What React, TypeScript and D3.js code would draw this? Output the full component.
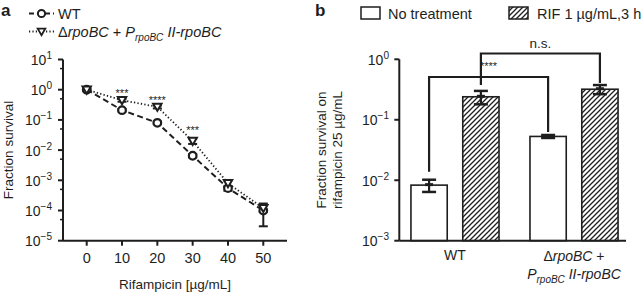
import React from "react";
import * as d3 from "d3";

// Panel a data
const concentrations = [0, 10, 20, 30, 40, 50];
const wtMean = [1.0, 0.21, 0.08, 0.0065, 0.00055, 0.0001];
const wtSd = [0.08, 0.02, 0.008, 0.0008, 0.0001, 0.00007];
const mutMean = [1.0, 0.45, 0.27, 0.02, 0.0008, 0.00012];
const mutSd = [0.08, 0.05, 0.03, 0.004, 0.0002, 0.00003];
const sigA = [
  { x: 10, label: "***", y: 0.75 },
  { x: 20, label: "****", y: 0.45 },
  { x: 30, label: "***", y: 0.045 },
];
const yTicksA = [1, 0, -1, -2, -3, -4, -5];
const xTicksA = [0, 10, 20, 30, 40, 50];

// Panel b data
const strains = ["WT", "mut"];
const treatments = ["No treatment", "RIF 1 µg/mL,3 h"];
const barMean = [
  [0.0083, 0.24],
  [0.053, 0.32],
];
const barSd = [
  [0.0019, 0.06],
  [0.003, 0.055],
];
const yTicksB = [0, -1, -2, -3];

const FONT = "'Liberation Sans', Arial, Helvetica, sans-serif";
const INK = "#1e1e1e";

function Pow({ x, y, e, anchor = "end", size = 13.5 }: any) {
  const exp = e < 0 ? "\u2212" + Math.abs(e) : String(e);
  return (
    <text x={x} y={y} textAnchor={anchor} fontSize={size} fontFamily={FONT} fill={INK}>
      10
      <tspan dy={-6} fontSize={size * 0.72}>{exp}</tspan>
    </text>
  );
}

export default function App() {
  // Panel a scales
  const xA = d3.scaleLinear().domain([0, 50]).range([86.7, 263.3]);
  const yA = d3.scaleLog().domain([1e-5, 10]).range([240.7, 59.5]);
  const axLeftA = 63;
  const axRightA = 287;
  const baseA = 240.7;

  const lineA = d3
    .line<number>()
    .x((_, i) => xA(concentrations[i]))
    .y((d) => yA(d));

  // Panel b scales
  const yB = d3.scaleLog().domain([1e-3, 1]).range([240.7, 59.3]);
  const xB = d3.scaleBand().domain(strains).range([405, 624]).paddingInner(0.26).paddingOuter(0.05);
  const xT = d3.scaleBand().domain(treatments).range([0, xB.bandwidth()]).paddingInner(0.3);
  const axLeftB = 399.3;
  const axRightB = 626;
  const baseB = 240.7;

  const barX = (s: number, t: number) => (xB(strains[s]) as number) + (xT(treatments[t]) as number);
  const bw = xT.bandwidth();
  const cx = (s: number, t: number) => barX(s, t) + bw / 2;

  const minorA: number[] = [];
  for (let k = -5; k < 1; k++) minorA.push(5 * Math.pow(10, k));

  const tri = (x: number, y: number, r: number) =>
    `M${x - r},${y - r * 0.75} L${x + r},${y - r * 0.75} L${x},${y + r * 0.95} Z`;

  return (
    <svg width={641} height={293} style={{ display: "block", position: "absolute", left: 0, top: 0 }}>
      <defs>
        <pattern id="hatch" patternUnits="userSpaceOnUse" width={5} height={5}>
          <path d="M-1,1 l2,-2 M0,5 l5,-5 M4,6 l2,-2" stroke={INK} strokeWidth={1.3} />
        </pattern>
      </defs>
      <rect width={641} height={293} fill="#fff" />

      {/* ---------- Panel a ---------- */}
      <text x={1} y={16} fontSize={17} fontWeight="bold" fontFamily={FONT} fill={INK}>a</text>
      {/* legend */}
      <g>
        <line x1={29} x2={54} y1={13.5} y2={13.5} stroke={INK} strokeWidth={2} strokeDasharray="5,3" />
        <circle cx={41.5} cy={13.5} r={3.6} fill="#fff" stroke={INK} strokeWidth={2} />
        <text x={58} y={19} fontSize={14.5} fontFamily={FONT} fill={INK}>WT</text>
        <line x1={29} x2={54} y1={31.5} y2={31.5} stroke={INK} strokeWidth={1.8} strokeDasharray="1.2,2.2" />
        <path d={tri(41.5, 31.5, 3.8)} fill="#fff" stroke={INK} strokeWidth={1.8} />
        <text x={58} y={37} fontSize={14.5} fontFamily={FONT} fill={INK}>
          {"\u0394"}
          <tspan fontStyle="italic">rpoBC</tspan>
          <tspan> + </tspan>
          <tspan fontStyle="italic">P</tspan>
          <tspan fontStyle="italic" fontSize={10} dy={4}>rpoBC</tspan>
          <tspan fontStyle="italic" dy={-4}> II-rpoBC</tspan>
        </text>
      </g>

      {/* axes */}
      <line x1={axLeftA} x2={axLeftA} y1={yA(10)} y2={baseA} stroke={INK} strokeWidth={2} />
      <line x1={axLeftA} x2={axRightA} y1={baseA} y2={baseA} stroke={INK} strokeWidth={2} />
      {yTicksA.map((e) => (
        <g key={e}>
          <line x1={axLeftA - 5} x2={axLeftA} y1={yA(Math.pow(10, e))} y2={yA(Math.pow(10, e))} stroke={INK} strokeWidth={2} />
          <Pow x={52} y={yA(Math.pow(10, e)) + 5.5} e={e} size={14} />
        </g>
      ))}
      {minorA.map((v) => (
        <line key={v} x1={axLeftA - 3} x2={axLeftA} y1={yA(v)} y2={yA(v)} stroke={INK} strokeWidth={1.5} />
      ))}
      {xTicksA.map((t) => (
        <g key={t}>
          <line x1={xA(t)} x2={xA(t)} y1={baseA} y2={baseA + 5} stroke={INK} strokeWidth={2} />
          <text x={xA(t)} y={263} textAnchor="middle" fontSize={14.5} fontFamily={FONT} fill={INK}>{t}</text>
        </g>
      ))}
      <text x={175} y={289} textAnchor="middle" fontSize={13.5} fontFamily={FONT} fill={INK}>Rifampicin [µg/mL]</text>
      <text transform="translate(13,150) rotate(-90)" textAnchor="middle" fontSize={13.5} fontFamily={FONT} fill={INK}>
        Fraction survival
      </text>

      {/* lines */}
      <path d={lineA(wtMean) as string} fill="none" stroke={INK} strokeWidth={2} strokeDasharray="6,3.5" />
      <path d={lineA(mutMean) as string} fill="none" stroke={INK} strokeWidth={1.8} strokeDasharray="1.3,2.2" />

      {/* error bars */}
      {[{ m: wtMean, s: wtSd }, { m: mutMean, s: mutSd }].map((ser, si) =>
        ser.m.map((v, i) => {
          const x = xA(concentrations[i]);
          const lo = yA(Math.max(v - ser.s[i], 1e-6));
          const hi = yA(v + ser.s[i]);
          return (
            <g key={`${si}-${i}`}>
              <line x1={x} x2={x} y1={lo} y2={hi} stroke={INK} strokeWidth={2} />
              <line x1={x - 4.5} x2={x + 4.5} y1={lo} y2={lo} stroke={INK} strokeWidth={2} />
              <line x1={x - 4.5} x2={x + 4.5} y1={hi} y2={hi} stroke={INK} strokeWidth={2} />
            </g>
          );
        })
      )}
      {/* markers */}
      {wtMean.map((v, i) => (
        <circle key={"c" + i} cx={xA(concentrations[i])} cy={yA(v)} r={3.8} fill="#fff" stroke={INK} strokeWidth={2.2} />
      ))}
      {mutMean.map((v, i) => (
        <path key={"t" + i} d={tri(xA(concentrations[i]), yA(v), 4.2)} fill="#fff" stroke={INK} strokeWidth={2} />
      ))}
      {sigA.map((s) => (
        <text key={s.x} x={xA(s.x)} y={yA(s.y) + 4} textAnchor="middle" fontSize={11} fontFamily={FONT} fill={INK}>
          {s.label}
        </text>
      ))}

      {/* ---------- Panel b ---------- */}
      <text x={315} y={16} fontSize={17} fontWeight="bold" fontFamily={FONT} fill={INK}>b</text>
      <rect x={361} y={7} width={19} height={12} fill="#fff" stroke={INK} strokeWidth={1.5} />
      <text x={388} y={18.5} fontSize={14.5} fontFamily={FONT} fill={INK}>{treatments[0]}</text>
      <rect x={509} y={7} width={19} height={12} fill="url(#hatch)" stroke={INK} strokeWidth={1.5} />
      <text x={537} y={18.5} fontSize={14.5} fontFamily={FONT} fill={INK}>{treatments[1]}</text>

      <line x1={axLeftB} x2={axLeftB} y1={yB(1)} y2={baseB} stroke={INK} strokeWidth={2} />
      {yTicksB.map((e) => (
        <g key={e}>
          <line x1={axLeftB - 5} x2={axLeftB} y1={yB(Math.pow(10, e))} y2={yB(Math.pow(10, e))} stroke={INK} strokeWidth={2} />
          <Pow x={389} y={yB(Math.pow(10, e)) + 5.5} e={e} size={14} />
        </g>
      ))}
      <text transform="translate(326,150) rotate(-90)" textAnchor="middle" fontSize={13.5} fontFamily={FONT} fill={INK}>
        Fraction survival on
      </text>
      <text transform="translate(342,150) rotate(-90)" textAnchor="middle" fontSize={13.5} fontFamily={FONT} fill={INK}>
        rifampicin  25 µg/mL
      </text>

      {/* bars */}
      {barMean.map((row, s) =>
        row.map((v, t) => (
          <rect
            key={`b${s}${t}`}
            x={barX(s, t)}
            y={yB(v)}
            width={bw}
            height={baseB - yB(v)}
            fill={t === 0 ? "#fff" : "url(#hatch)"}
            stroke={INK}
            strokeWidth={1.6}
          />
        ))
      )}
      {/* error bars b */}
      {barMean.map((row, s) =>
        row.map((v, t) => {
          const x = cx(s, t);
          const lo = yB(v - barSd[s][t]);
          const hi = yB(v + barSd[s][t]);
          return (
            <g key={`e${s}${t}`}>
              <line x1={x} x2={x} y1={lo} y2={hi} stroke={INK} strokeWidth={2.2} />
              <line x1={x - 7} x2={x + 7} y1={lo} y2={lo} stroke={INK} strokeWidth={2.5} />
              <line x1={x - 7} x2={x + 7} y1={hi} y2={hi} stroke={INK} strokeWidth={2.5} />
              <line x1={x - 4} x2={x + 4} y1={yB(v) - 0.5} y2={yB(v) - 0.5} stroke={INK} strokeWidth={3} />
            </g>
          );
        })
      )}
      <line x1={axLeftB} x2={axRightB} y1={baseB} y2={baseB} stroke={INK} strokeWidth={2} />

      {/* significance brackets */}
      {(() => {
        const y1 = 77;
        const xl = cx(0, 0);
        const xr = cx(1, 0);
        const y2 = 53.5;
        const xl2 = cx(0, 1);
        const xr2 = cx(1, 1);
        return (
          <g fill="none" stroke={INK} strokeWidth={2.2}>
            <path d={`M${xl},${yB(barMean[0][0] + barSd[0][0]) - 8} V${y1} H${xr} V${yB(barMean[1][0] + barSd[1][0]) - 3}`} />
            <path d={`M${xl2},${yB(barMean[0][1] + barSd[0][1]) - 6} V${y2} H${xr2} V${yB(barMean[1][1] + barSd[1][1]) - 2}`} />
            <text x={(xl + xr) / 2} y={70} textAnchor="middle" fontSize={11} fontFamily={FONT} fill={INK} stroke="none">****</text>
            <text x={(xl2 + xr2) / 2} y={48} textAnchor="middle" fontSize={13.5} fontFamily={FONT} fill={INK} stroke="none">n.s.</text>
          </g>
        );
      })()}

      {/* category labels */}
      <text x={(xB("WT") as number) + xB.bandwidth() / 2} y={260} textAnchor="middle" fontSize={14} fontFamily={FONT} fill={INK}>WT</text>
      <text x={(xB("mut") as number) + xB.bandwidth() / 2} y={261} textAnchor="middle" fontSize={14} fontFamily={FONT} fill={INK}>
        {"\u0394"}<tspan fontStyle="italic">rpoBC</tspan> +
      </text>
      <text x={(xB("mut") as number) + xB.bandwidth() / 2} y={279} textAnchor="middle" fontSize={14} fontFamily={FONT} fill={INK}>
        <tspan fontStyle="italic">P</tspan>
        <tspan fontStyle="italic" fontSize={10} dy={4}>rpoBC</tspan>
        <tspan fontStyle="italic" dy={-4}> II-rpoBC</tspan>
      </text>
    </svg>
  );
}
